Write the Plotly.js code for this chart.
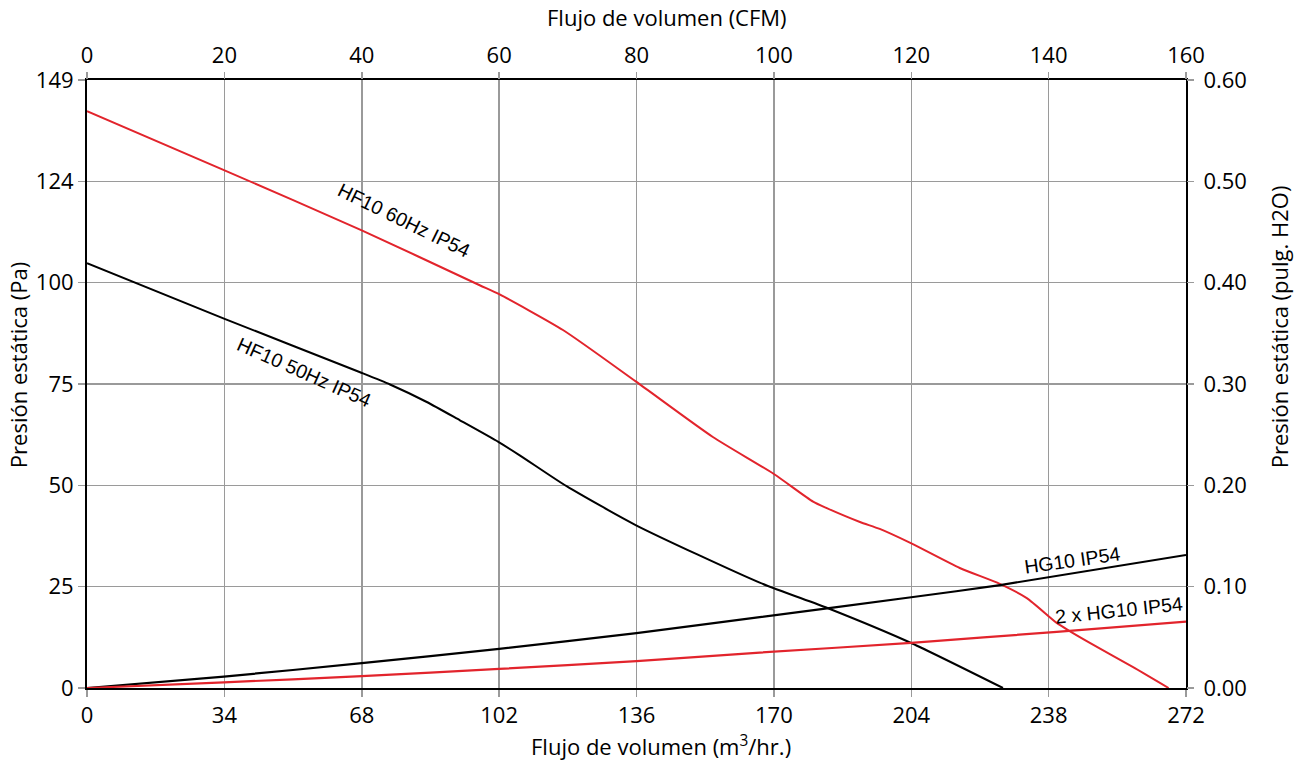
<!DOCTYPE html>
<html><head><meta charset="utf-8">
<script src="https://cdn.plot.ly/plotly-3.0.1.min.js"></script>
<style>html,body{margin:0;padding:0;background:#fff}#chart{width:1301px;height:764px}</style>
</head><body><div id="chart"></div>
<script>
// Flow in m3/hr, static pressure in Pa
const hf60_x = [0, 33.9, 68, 97.2, 102, 117.8, 135.9, 154.9, 170, 179.7, 183.1, 191.3, 196.2, 203.9, 216, 225.9, 232.6, 240, 243.2, 248.2, 258.8, 267.7];
const hf60_y = [141.8, 127.3, 112.5, 99.0, 96.8, 88.0, 75.3, 61.7, 52.6, 45.8, 44.2, 40.8, 39.1, 35.6, 29.5, 25.6, 22.1, 16.0, 14.0, 11.1, 5.2, 0];
const hf50_x = [0, 33.9, 67.6, 75, 84.1, 92.3, 101.8, 107.1, 118.7, 135.9, 166.5, 183.4, 204.1, 226.7];
const hf50_y = [104.4, 90.8, 77.6, 74.6, 70.3, 65.8, 60.5, 57.2, 49.6, 40.0, 25.9, 19.6, 11.0, 0];
const hg_x = [0, 33.9, 68, 102, 136, 166.5, 204, 226, 272];
const hg_y = [0, 2.8, 6.1, 9.6, 13.5, 17.4, 22.3, 25.3, 32.7];
const hg2_x = [0, 33.9, 68, 102, 136, 166.5, 204, 240, 272];
const hg2_y = [0, 1.4, 2.9, 4.7, 6.6, 8.7, 11.1, 13.8, 16.3];

const m3Ticks = [0, 34, 68, 102, 136, 170, 204, 238, 272];
const cfmRange = [0, 160];
const inchRange = [0, 0.6];
const paTickVals = [0, 24.908, 49.816, 74.724, 99.632, 124.54, 149.448];
const paTickText = ['0', '25', '50', '75', '100', '124', '149'];

const RED = '#e2242c', BLK = '#000000';
const tickFont = {family: 'Open Sans, Lato, sans-serif', size: 22, color: '#000'};
const titleFont = {family: 'Open Sans, Lato, sans-serif', size: 22, color: '#000'};
const annFont = {family: 'Liberation Sans, Arial, sans-serif', size: 19.5, color: '#000'};

const traces = [
  {x: hf60_x, y: hf60_y, mode: 'lines', line: {color: RED, width: 2, shape: 'spline', smoothing: 0.6}, hoverinfo: 'skip'},
  {x: hf50_x, y: hf50_y, mode: 'lines', line: {color: BLK, width: 2, shape: 'spline', smoothing: 0.6}, hoverinfo: 'skip'},
  {x: hg_x, y: hg_y, mode: 'lines', line: {color: BLK, width: 2.2, shape: 'spline', smoothing: 0.6}, hoverinfo: 'skip'},
  {x: hg2_x, y: hg2_y, mode: 'lines', line: {color: RED, width: 2.2, shape: 'spline', smoothing: 0.6}, hoverinfo: 'skip'},
  {x: cfmRange, y: inchRange, xaxis: 'x2', yaxis: 'y2', mode: 'markers', marker: {opacity: 0}, hoverinfo: 'skip'}
];

const layout = {
  width: 1301, height: 764,
  margin: {l: 87, r: 115, t: 80, b: 76},
  paper_bgcolor: '#fff', plot_bgcolor: '#fff',
  showlegend: false,
  xaxis: {
    range: [0, 272], tickvals: m3Ticks, ticktext: m3Ticks.map(String),
    showgrid: true, gridcolor: '#9a9a9a', gridwidth: 1.5,
    showline: true, linecolor: '#000', linewidth: 2, mirror: true,
    ticks: 'outside', ticklen: 7, tickcolor: '#9a9a9a', tickwidth: 1.5,
    tickfont: tickFont, zeroline: false
  },
  xaxis2: {
    overlaying: 'x', side: 'top', range: cfmRange, dtick: 20,
    showgrid: false, showline: false, zeroline: false,
    ticks: 'outside', ticklen: 7, tickcolor: '#9a9a9a', tickwidth: 1.5,
    tickfont: tickFont
  },
  yaxis: {
    range: [0, 149.448], tickvals: paTickVals, ticktext: paTickText,
    showgrid: true, gridcolor: '#9a9a9a', gridwidth: 1.5,
    showline: true, linecolor: '#000', linewidth: 2, mirror: true,
    ticks: 'outside', ticklen: 7, tickcolor: '#9a9a9a', tickwidth: 1.5,
    tickfont: tickFont, zeroline: false
  },
  yaxis2: {
    overlaying: 'y', side: 'right', range: inchRange, dtick: 0.1, tickformat: '.2f',
    showgrid: false, showline: false, zeroline: false,
    ticks: 'outside', ticklen: 7, tickcolor: '#9a9a9a', tickwidth: 1.5,
    ticklabelstandoff: 5,
    tickfont: tickFont
  },
  annotations: [
    {x: 0.5278, y: 1.1036, xref: 'paper', yref: 'paper', text: 'Flujo de volumen (CFM)', showarrow: false, xanchor: 'center', yanchor: 'middle', font: titleFont},
    {x: 0.5223, y: -0.0938, xref: 'paper', yref: 'paper', text: 'Flujo de volumen (m<sup>3</sup>/hr.)', showarrow: false, xanchor: 'center', yanchor: 'middle', font: titleFont},
    {x: -0.0628, y: 0.531, xref: 'paper', yref: 'paper', text: 'Presión estática (Pa)', showarrow: false, textangle: -90, xanchor: 'center', yanchor: 'middle', font: titleFont},
    {x: 1.0846, y: 0.595, xref: 'paper', yref: 'paper', text: 'Presión estática (pulg. H2O)', showarrow: false, textangle: -90, xanchor: 'center', yanchor: 'middle', font: titleFont},
    {x: 78.4, y: 115, xref: 'x', yref: 'y', text: 'HF10 60Hz IP54', showarrow: false, textangle: 26, font: annFont},
    {x: 53.7, y: 77.6, xref: 'x', yref: 'y', text: 'HF10 50Hz IP54', showarrow: false, textangle: 24, font: annFont},
    {x: 244, y: 31.4, xref: 'x', yref: 'y', text: 'HG10 IP54', showarrow: false, textangle: -8, font: annFont},
    {x: 255.5, y: 19.2, xref: 'x', yref: 'y', text: '2 x HG10 IP54', showarrow: false, textangle: -6, font: annFont}
  ]
};

Plotly.newPlot('chart', traces, layout, {displayModeBar: false, staticPlot: true});
</script>
</body></html>
